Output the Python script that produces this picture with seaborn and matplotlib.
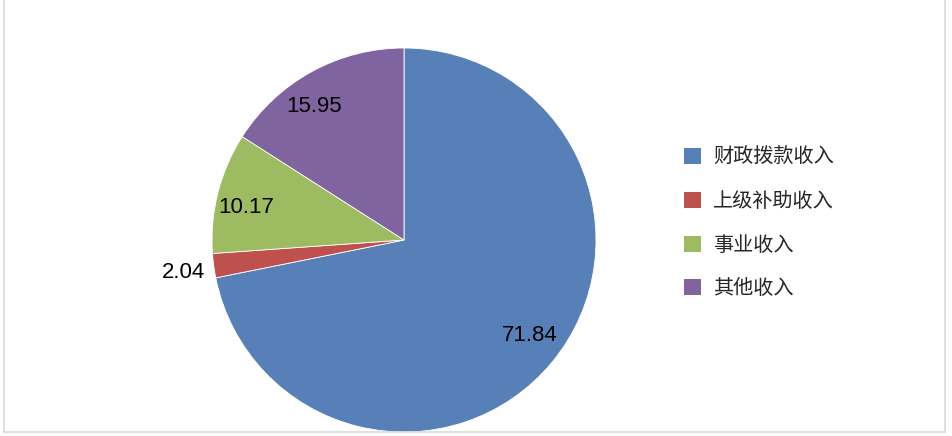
import matplotlib
matplotlib.use("Agg")
import matplotlib.pyplot as plt
import seaborn as sns
import numpy as np
from matplotlib.patches import Patch
from matplotlib.lines import Line2D

categories = ["财政拨款收入", "上级补助收入", "事业收入", "其他收入"]
values = [71.84, 2.04, 10.17, 15.95]
value_labels = ["71.84", "2.04", "10.17", "15.95"]
colors = ["#5880B8", "#BE504D", "#9DBB61", "#7F64A0"]

sns.set_theme(style="white")
plt.rcParams['font.family'] = ['Noto Sans CJK SC', 'DejaVu Sans']
palette = sns.color_palette(colors)

W, H = 952, 436
fig = plt.figure(figsize=(W / 100, H / 100), dpi=100)
cx, cy, r = 404, 240, 192
ax = fig.add_axes([(cx - r) / W, (H - cy - r) / H, 2 * r / W, 2 * r / H])

wedges, texts = ax.pie(values, colors=palette, startangle=90, counterclock=False,
                       wedgeprops=dict(edgecolor="white", linewidth=0.6))
ax.set_xlim(-1, 1)
ax.set_ylim(-1, 1)
ax.set_aspect("equal")

# label placement: radial distance and small angular shift from the wedge middle
dists = [0.823, 1.161, 0.840, 0.837]
shifts = [2.1, 0.7, 2.7, 5.4]
for w, lab, d, s in zip(wedges, value_labels, dists, shifts):
    ang = np.deg2rad((w.theta1 + w.theta2) / 2 + s)
    ax.text(d * np.cos(ang), d * np.sin(ang), lab, ha="center", va="center",
            fontsize=16, family=["Liberation Sans", "DejaVu Sans"], color="black",
            clip_on=False)

handles = [Patch(facecolor=c, edgecolor="none") for c in palette]
leg = fig.legend(handles, categories, loc="upper left",
                 bbox_to_anchor=(684 / W, 1 - 147 / H), frameon=False,
                 prop=dict(size=14.5),
                 handlelength=0.85, handleheight=0.85,
                 handletextpad=0.6, labelspacing=1.13, borderpad=0, borderaxespad=0)

bc = "#D9D9D9"
fig.add_artist(Line2D([3.5 / W, 3.5 / W], [1, 1 - 432 / H], transform=fig.transFigure, color=bc, lw=1.2))
fig.add_artist(Line2D([944.5 / W, 944.5 / W], [1, 1 - 432 / H], transform=fig.transFigure, color=bc, lw=1.2))
fig.add_artist(Line2D([3.5 / W, 944.5 / W], [1 - 432 / H, 1 - 432 / H], transform=fig.transFigure, color=bc, lw=1.2))

fig.savefig("out.png", dpi=100, facecolor="white")
